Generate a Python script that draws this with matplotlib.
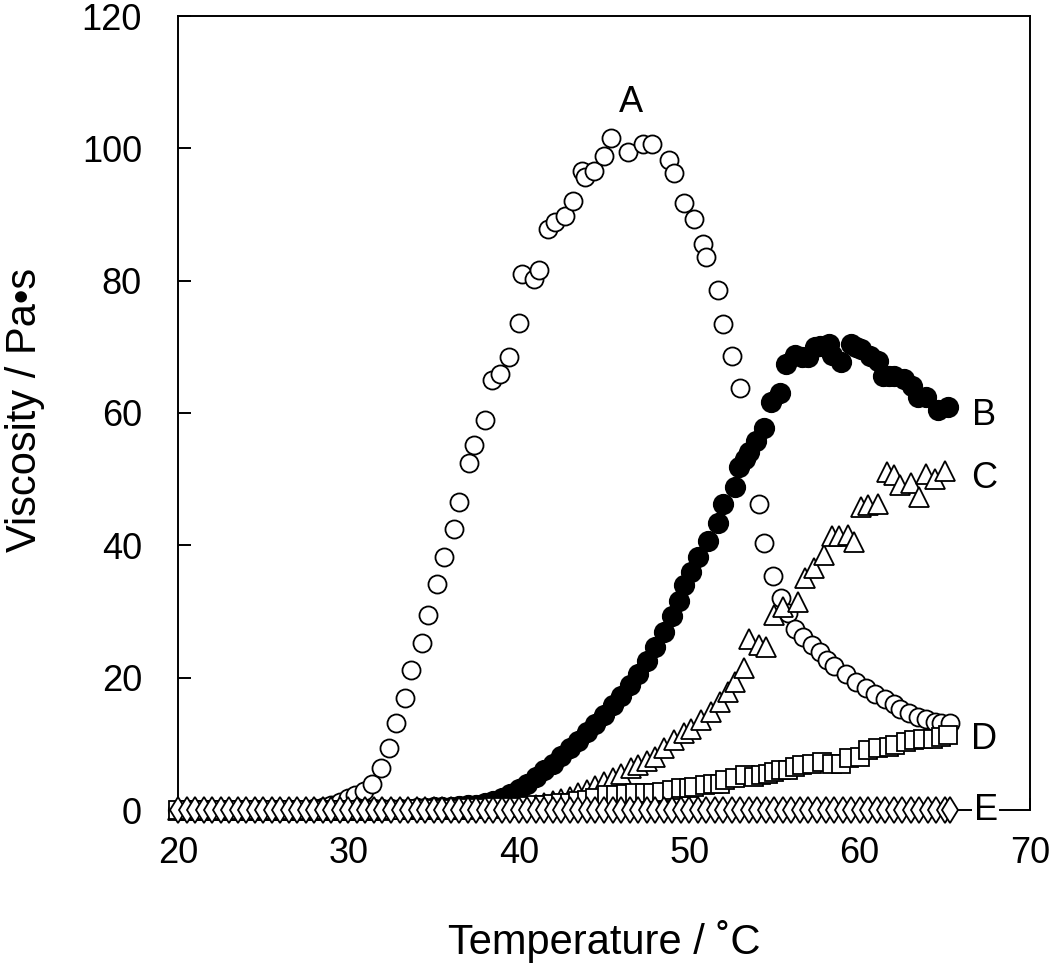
import matplotlib
matplotlib.use("Agg")
import matplotlib.pyplot as plt

plt.rcParams['font.family'] = ['Liberation Sans', 'DejaVu Sans']

# series A (open circles)
A_T = [20.0, 20.5, 21.0, 21.5, 22.0, 22.5, 23.0, 23.5, 24.0, 24.5,
       25.0, 25.5, 26.0, 26.5, 27.0, 27.5, 28.0, 28.5, 29.0, 29.5,
       30.0, 30.4, 30.9, 31.4, 31.9, 32.4, 32.8, 33.3, 33.7, 34.3,
       34.7, 35.2, 35.6, 36.2, 36.5, 37.1, 37.4, 38.0, 38.4, 38.9,
       39.4, 40.0, 40.2, 40.9, 41.2, 41.7, 42.1, 42.7, 43.2, 43.7,
       43.9, 44.4, 45.0, 45.4, 46.4, 47.3, 47.8, 48.8, 49.1, 49.7,
       50.3, 50.8, 51.0, 51.7, 52.0, 52.5, 53.0, 54.1, 54.4, 54.9,
       55.4, 55.8, 56.2, 56.7, 57.2, 57.7, 58.1, 58.5, 59.2, 59.8,
       60.4, 60.9, 61.5, 62.0, 62.4, 62.9, 63.4, 63.9, 64.4, 64.8,
       65.3]
A_V = [0.0, 0.0, 0.0, 0.0, 0.0, 0.0, 0.0, 0.0, 0.0, 0.1,
       0.1, 0.1, 0.1, 0.1, 0.2, 0.2, 0.3, 0.5, 0.8, 1.2,
       1.8, 2.3, 2.8, 3.9, 6.3, 9.4, 13.1, 16.9, 21.1, 25.2,
       29.4, 34.1, 38.3, 42.4, 46.5, 52.5, 55.2, 59.0, 65.0, 65.9,
       68.5, 73.6, 81.0, 80.2, 81.6, 87.8, 88.8, 89.7, 92.1, 96.5,
       95.6, 96.5, 98.9, 101.6, 99.5, 100.6, 100.7, 98.2, 96.2, 91.8,
       89.3, 85.5, 83.6, 78.6, 73.5, 68.6, 63.8, 46.3, 40.4, 35.3,
       32.1, 29.7, 27.4, 26.2, 24.9, 23.9, 22.6, 21.8, 20.6, 19.4,
       18.4, 17.6, 16.8, 16.0, 15.3, 14.7, 14.1, 13.7, 13.3, 13.2,
       13.1]

# series B (filled circles)
B_T = [20.0, 20.5, 21.0, 21.5, 22.0, 22.5, 23.0, 23.5, 24.0, 24.5,
       25.0, 25.5, 26.0, 26.5, 27.0, 27.5, 28.0, 28.5, 29.0, 29.5,
       30.0, 30.5, 31.0, 31.5, 32.0, 32.5, 33.0, 33.5, 34.0, 34.5,
       35.0, 35.5, 36.0, 36.5, 37.0, 37.5, 38.0, 38.5, 39.0, 39.5,
       40.0, 40.5, 41.0, 41.5, 42.0, 42.5, 43.0, 43.5, 44.0, 44.5,
       45.0, 45.5, 46.0, 46.5, 47.0, 47.5, 48.0, 48.5, 49.0, 49.4,
       49.7, 50.1, 50.5, 51.1, 51.7, 52.0, 52.7, 52.9, 53.3, 53.5,
       53.9, 54.4, 54.8, 55.3, 55.7, 56.2, 56.6, 57.0, 57.4, 57.7,
       58.2, 58.4, 58.9, 59.5, 59.8, 60.1, 60.6, 61.1, 61.4, 61.7,
       62.0, 62.6, 63.1, 63.4, 63.9, 64.6, 65.2]
B_V = [0.0, 0.0, 0.0, 0.0, 0.0, 0.0, 0.0, 0.0, 0.0, 0.0,
       0.0, 0.0, 0.0, 0.0, 0.0, 0.0, 0.0, 0.0, 0.0, 0.0,
       0.0, 0.1, 0.1, 0.1, 0.1, 0.2, 0.2, 0.2, 0.3, 0.3,
       0.4, 0.4, 0.5, 0.6, 0.7, 0.8, 1.0, 1.3, 1.8, 2.4,
       3.2, 4.0, 5.0, 6.0, 7.0, 8.1, 9.3, 10.5, 11.8, 13.0,
       14.4, 15.8, 17.3, 18.9, 20.6, 22.5, 24.6, 26.9, 29.3, 31.6,
       34.0, 36.0, 38.2, 40.7, 43.3, 46.2, 48.8, 51.8, 53.0, 54.1,
       55.8, 57.8, 61.6, 63.0, 67.4, 68.7, 68.5, 68.4, 69.9, 70.2,
       70.4, 68.7, 67.7, 70.4, 70.0, 69.6, 68.6, 67.9, 65.6, 65.6,
       65.6, 65.1, 64.1, 62.4, 62.4, 60.4, 60.9]

# series C (open triangles)
C_T = [20.0, 20.5, 21.0, 21.5, 22.0, 22.5, 23.0, 23.5, 24.0, 24.5,
       25.0, 25.5, 26.0, 26.5, 27.0, 27.5, 28.0, 28.5, 29.0, 29.5,
       30.0, 30.5, 31.0, 31.5, 32.0, 32.5, 33.0, 33.5, 34.0, 34.5,
       35.0, 35.5, 36.0, 36.5, 37.0, 37.5, 38.0, 38.5, 39.0, 39.5,
       40.0, 40.5, 41.0, 41.5, 42.0, 42.5, 43.0, 43.5, 44.0, 44.5,
       45.0, 45.5, 46.0, 46.6, 47.0, 47.5, 48.0, 48.5, 49.1, 49.7,
       50.1, 50.7, 51.3, 51.8, 52.3, 52.7, 53.2, 53.5, 54.1, 54.5,
       55.0, 55.5, 56.4, 56.8, 57.3, 57.9, 58.4, 58.8, 59.3, 59.7,
       60.1, 60.5, 61.1, 61.6, 62.0, 62.4, 63.0, 63.5, 63.9, 64.4,
       65.0]
C_V = [0.0, 0.0, 0.0, 0.0, 0.0, 0.0, 0.0, 0.0, 0.0, 0.0,
       0.0, 0.0, 0.0, 0.0, 0.0, 0.0, 0.0, 0.0, 0.0, 0.0,
       0.0, 0.0, 0.0, 0.0, 0.0, 0.1, 0.1, 0.1, 0.1, 0.1,
       0.1, 0.2, 0.2, 0.2, 0.2, 0.3, 0.3, 0.3, 0.4, 0.4,
       0.5, 0.6, 0.8, 1.0, 1.3, 1.6, 2.0, 2.5, 3.0, 3.6,
       4.2, 4.9, 5.5, 6.3, 6.8, 7.4, 8.0, 9.4, 10.6, 11.6,
       12.3, 13.6, 14.8, 16.3, 17.9, 19.4, 21.4, 25.9, 24.9, 24.6,
       29.4, 30.7, 31.4, 35.0, 36.6, 38.6, 41.4, 41.4, 41.5, 40.5,
       45.8, 46.1, 46.3, 51.1, 50.6, 49.1, 49.4, 47.3, 50.8, 50.0,
       51.3]

# series D (open squares)
D_T = [20.0, 20.5, 21.0, 21.5, 22.0, 22.5, 23.0, 23.5, 24.0, 24.5,
       25.0, 25.5, 26.0, 26.5, 27.0, 27.5, 28.0, 28.5, 29.0, 29.5,
       30.0, 30.5, 31.0, 31.5, 32.0, 32.5, 33.0, 33.5, 34.0, 34.5,
       35.0, 35.5, 36.0, 36.5, 37.0, 37.5, 38.0, 38.5, 39.0, 39.5,
       40.0, 40.5, 41.0, 41.5, 42.0, 42.5, 43.0, 43.5, 44.0, 44.5,
       45.2, 45.7, 46.3, 46.8, 47.4, 47.9, 48.4, 49.0, 49.5, 50.0,
       50.3, 50.9, 51.4, 51.8, 52.1, 52.7, 53.3, 53.8, 54.2, 54.6,
       55.0, 55.4, 55.8, 56.2, 56.6, 57.2, 57.8, 58.4, 58.9, 59.4,
       60.0, 60.5, 61.1, 61.7, 62.1, 62.7, 63.2, 63.7, 64.3, 64.8,
       65.2]
D_V = [0.0, 0.0, 0.0, 0.0, 0.0, 0.0, 0.0, 0.0, 0.0, 0.0,
       0.0, 0.0, 0.0, 0.0, 0.0, 0.0, 0.0, 0.0, 0.0, 0.0,
       0.0, 0.0, 0.0, 0.0, 0.0, 0.0, 0.0, 0.0, 0.1, 0.1,
       0.1, 0.2, 0.2, 0.2, 0.3, 0.3, 0.3, 0.4, 0.4, 0.5,
       0.5, 0.6, 0.7, 0.8, 0.9, 1.0, 1.1, 1.3, 1.5, 1.8,
       2.2, 2.3, 2.4, 2.5, 2.6, 2.6, 2.7, 3.0, 3.3, 3.4,
       3.5, 3.8, 3.9, 4.0, 4.5, 4.8, 5.3, 5.0, 5.3, 5.5,
       5.7, 6.0, 6.0, 6.5, 6.8, 7.0, 7.3, 7.0, 7.0, 7.8,
       8.0, 9.1, 9.3, 9.5, 9.8, 10.3, 10.6, 10.8, 10.8, 11.0,
       11.3]

# series E (open diamonds)
E_T = [20.0, 20.5, 21.0, 21.5, 22.0, 22.5, 23.0, 23.5, 24.0, 24.5,
       25.0, 25.5, 26.0, 26.5, 27.0, 27.5, 28.0, 28.5, 29.0, 29.5,
       30.0, 30.5, 31.0, 31.5, 32.0, 32.5, 33.0, 33.5, 34.0, 34.5,
       35.0, 35.5, 36.0, 36.5, 37.0, 37.5, 38.0, 38.5, 39.0, 39.5,
       40.0, 40.5, 41.0, 41.5, 42.0, 42.5, 43.0, 43.5, 44.0, 44.5,
       45.0, 45.5, 46.0, 46.5, 47.0, 47.5, 48.0, 48.5, 49.0, 49.5,
       50.0, 50.5, 51.0, 51.5, 52.0, 52.5, 53.0, 53.5, 54.0, 54.5,
       55.0, 55.5, 56.0, 56.5, 57.0, 57.5, 58.0, 58.5, 59.0, 59.5,
       60.0, 60.5, 61.0, 61.5, 62.0, 62.5, 63.0, 63.5, 64.0, 64.5,
       65.0, 65.3]
E_V = [0.0, 0.0, 0.0, 0.0, 0.0, 0.0, 0.0, 0.0, 0.0, 0.0,
       0.0, 0.0, 0.0, 0.0, 0.0, 0.0, 0.0, 0.0, 0.0, 0.0,
       0.0, 0.0, 0.0, 0.0, 0.0, 0.0, 0.0, 0.0, 0.0, 0.0,
       0.0, 0.0, 0.0, 0.0, 0.0, 0.0, 0.0, 0.0, 0.0, 0.0,
       0.0, 0.0, 0.0, 0.0, 0.0, 0.0, 0.0, 0.0, 0.0, 0.0,
       0.0, 0.0, 0.0, 0.0, 0.0, 0.0, 0.0, 0.0, 0.0, 0.0,
       0.0, 0.0, 0.0, 0.0, 0.0, 0.0, 0.0, 0.0, 0.0, 0.0,
       0.0, 0.0, 0.0, 0.0, 0.0, 0.0, 0.0, 0.0, 0.0, 0.0,
       0.0, 0.0, 0.0, 0.0, 0.0, 0.0, 0.0, 0.0, 0.0, 0.0,
       0.0, 0.0]

labels = ['A', 'B', 'C', 'D', 'E']
label_pos = [(46.6, 107.0), (67.3, 59.6), (67.3, 50.1), (67.3, 10.6), (67.4, 0.0)]

fig = plt.figure(figsize=(10.5, 9.69), dpi=100)
ax = fig.add_axes([178/1050, 1-810/969, 852/1050, 794/969])

kw = dict(linestyle='none', mec='black', mew=1.3, clip_on=False, zorder=3)
ax.plot(A_T, A_V, marker='o', ms=13, mfc='white', **kw)
ax.plot(B_T, B_V, marker='o', ms=14, mfc='black', **kw)
ax.plot(C_T, C_V, marker='^', ms=14, mfc='white', **kw)
ax.plot(D_T, D_V, marker='s', ms=12.5, mfc='white', **kw)
ax.plot(E_T, E_V, marker='d', ms=13, mfc='white', **kw)

for lab, (x, y) in zip(labels, label_pos):
    if lab == 'E':
        ax.text(x, y, lab, fontsize=26, ha='center', va='center', zorder=6, clip_on=False,
                bbox=dict(facecolor='white', edgecolor='none', pad=1))
    else:
        ax.text(x, y, lab, fontsize=26, ha='center', va='center', zorder=6)

ax.set_xlim(20, 70)
ax.set_ylim(0, 120)
ax.set_xticks([20, 30, 40, 50, 60, 70])
ax.set_yticks([0, 20, 40, 60, 80, 100, 120])
for s in ax.spines.values():
    s.set_linewidth(1.4)
ax.tick_params(axis='y', direction='in', length=9, width=1.4, pad=26, labelsize=26)
ax.tick_params(axis='x', direction='in', length=9, width=1.4, pad=19, labelsize=26)

ax.set_xlabel('Temperature / ˚C', fontsize=30, va='center')
ax.xaxis.set_label_coords(0.5, -0.166)
ax.set_ylabel('Viscosity / Pa•s', fontsize=30, va='center')
ax.yaxis.set_label_coords(-0.18, 0.504)

fig.savefig('out.png', dpi=100)
